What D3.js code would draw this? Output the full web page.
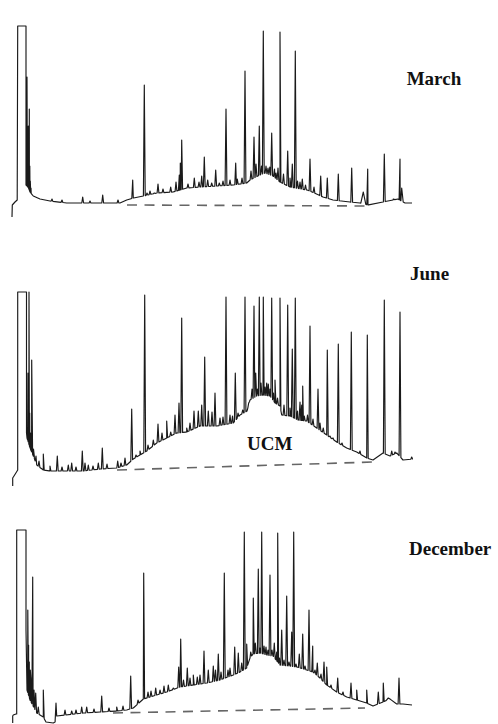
<!DOCTYPE html>
<html>
<head>
<meta charset="utf-8">
<script src="https://cdn.jsdelivr.net/npm/d3@7"></script>
<style>
  body { margin: 0; background: #fff; }
  .trace { fill: none; stroke: #1a1a1a; stroke-width: 1.15; stroke-linejoin: round; }
  .ucm-base { stroke: #666; stroke-width: 1.6; stroke-dasharray: 10,7.5; }
  .month { font-family: "Liberation Serif", "Times New Roman", serif; font-weight: bold; font-size: 19px; fill: #111; }
</style>
</head>
<body>
<svg id="chart" width="498" height="724"></svg>
<script>
// scan number vs detector response, one set per sampling month
const months = ["March", "June", "December"];

// baseline / hump knots [scan, response]
const marchBase = [[2,9],[2.3,21],[5,24],[7.2,26],[7.7,200],[16,200],[16,41],[17,40],[18.5,38],[20,34],[23.3,30],[30,27],[40,25],[56.7,23],[90,23],[110,23],[116.7,26],[123.3,28],[133.3,30],[146.7,33],[163,34],[176.7,38],[190,39],[206.7,40],[223.3,41],[236.7,43],[240,46],[250,51],[255,53],[263,50],[270,44],[280,39],[297,36],[302,34],[313,29],[323,26],[340,24],[350,23],[358,21],[373,24],[383,26],[388,27],[395,23],[402,23]];
const juneBase = [[2.7,7],[2.7,15],[4,17],[6.5,21],[7.7,23],[7.7,201],[16.5,201],[16.5,60],[17,55],[20,45],[23.3,37],[26.7,28],[33.3,23],[40,22],[56.7,22],[73.3,22],[90,24],[106.7,25],[116.7,28],[123.3,34],[130,38],[136.7,42],[146.7,50],[156.7,55],[166.7,60],[176.7,61],[190,67],[206.7,67],[223.3,70],[230,78],[237,82],[240,93],[246.7,97],[253,98],[260,97],[265,90],[270,87],[271.7,78],[280,77],[288,73],[296.7,72],[306.7,65],[316.7,58],[326.7,51],[336.7,45],[346.7,41],[356.7,35],[363,33],[373,40],[380,37],[386.7,40],[393,33],[403,34]];
const decBase = [[2.7,7],[2.7,14],[3.3,15],[6,16],[6.7,16],[6.7,200],[16,200],[16,100],[17,40],[20,30],[26.7,17],[33.3,13],[36,8],[43.3,7],[45,8],[46.7,14],[73.3,17],[90,18],[106.7,19],[116.7,20],[123.3,22],[133.3,31],[146.7,35],[156.7,38],[170,43],[183.3,45],[196.7,47],[210,50],[223.3,55],[230,58],[236.7,62],[240,72],[243,76],[250,77],[256.7,75],[263,74],[270,65],[280,64],[286.7,63],[296.7,60],[303,58],[310,52],[316.7,45],[326.7,38],[336.7,33],[346.7,30],[356.7,27],[363,24],[373,28],[380,31],[386.7,26],[393,26],[402,25]];

// resolved peaks [scan, apex response, (half width)]
const marchPeaks = [[17,149],[17.8,80],[18.3,100],[18.8,70],[19.3,117],[19.8,60],[20.3,45],[21,38],
  [42,27],[52,26],[72.7,29],[80,25],[92.7,31],[108,26],[122.7,46],[134.3,141],[137,33],[140,35],[144.3,33],[148,42],[153,37],[160.7,39],[166,44],[169.3,51],[170.3,63],[171.7,86],[178,42],[184.3,48],[189,44],[191.7,50],[194.3,69],[197.7,46],[201.7,43],[205.7,56],[209.3,43],[213,45],[216,117],[220,46],[225.7,63],[227.3,47],[232,48],[235,155],
  [241,55],[244,89],[246,62],[249.3,100],[251.5,60],[253.3,195],[256,60],[258,58],[259.8,59],[261.7,93],[264.5,57],[266,53],[268,58],[270,194],[273.5,52],[277.7,75],[280,48],[282.3,62],[285.3,175],[287.5,45],[290,44],[292.3,47],[295.5,41],[300,67],[304,39],[310.7,50],[317.3,48],[328.3,52],[341.7,58],[353.3,34,2.5],[357.7,57],[374.3,72],[383.3,27,1.5],[390,67],[391.7,38,1.5]];
const junePeaks = [[18,120],[18.5,90],[19,201],[19.7,80],[20.5,60],[21.7,133],[22.5,50],[23.5,44],
  [24.3,37],[26,37],[29,32],[33.3,39],[40,27],[47.3,37],[52,26],[58.3,28],[61.7,30],[66,26],[72.3,42],[75,30],[78.3,28],[83,27],[88.3,30],[92.3,45],[97,29],[107.7,32],[111,30],[115,35],[121.7,84],[126,38],[130,42],[134.7,198],[138,48],[143.3,53],[148,69],[152,60],[156.7,72],[160.7,61],[165,78],[169,90],[171.7,175],[176.7,65],[180,70],[184,82],[188.3,82],[191.7,88],[194.7,136],[198.3,82],[202,81],[205,100],[210,75],[213,76],[216,196],[220,78],[222.5,77],[225.3,120],[228,80],[232.7,83],[235,196],[238.7,90],
  [242,104],[244,187],[245.7,120],[247.5,104],[249.3,196],[251,110],[253.3,196],[255,106],[256.7,110],[258.3,109],[260,104],[261.7,195],[263.5,100],[265,113],[267.5,95],[270,195],[274,88],[277.7,188],[280,85],[282.3,144],[285.3,195],[287.5,82],[290,91],[291.7,88],[292.7,107],[294.3,77],[297.5,78],[300,167],[303,74],[308,104],[310,70],[313.3,65],[317.3,143],[320,57],[323,55],[328.3,149],[332,50],[341.3,161],[350,42],[357.3,158],[374.3,193],[381.7,42],[385,41],[390,181],[401.7,36]];
const decPeaks = [[17.8,120],[18.6,85],[19.3,68],[20.3,60],[21,50],[22.7,153],[24,40],[25.7,37],[28.3,23],[33.3,40],[46,27],
  [55,20],[61.7,19],[66,20],[71.7,23],[76.7,23],[84,21],[91.7,34],[99,22],[106.7,23],[113,24],[120.7,54],[128,30],[133.7,157],[138,38],[141,39],[145.7,42],[150,40],[154,44],[158.3,45],[163.3,42],[168.7,63],[170.7,91],[173.5,50],[177.3,62],[180,52],[183.3,55],[187.3,53],[190,55],[194,79],[198.3,60],[203.3,64],[205.5,60],[208.3,76],[211,58],[214.3,157],[218,60],[220,62],[224.7,83],[228.3,77],[231.7,67],[234.3,198],[236.7,86],[240.7,78],[243.3,132],[245.3,87],[248.3,161],[250,82],[251.7,198],[254,84],[256,83],[258,80],[260,155],[262,80],[264.3,87],[266.7,78],[267.7,197],[269.5,72],[271.7,100],[274,70],[276.7,134],[279,68],[281.7,98],[283.7,198],[286,66],[289.3,76],[292.7,96],[295,64],[299,120],[302.7,84],[305,60],[307.3,67],[311,56],[314,68],[316.7,63],[321,45],[327.7,52],[333,38],[341,47],[346.7,40],[356.7,40],[368.3,38],[373.3,47],[378.3,32,2.5],[389,52]];

// dashed UCM baselines [scan, response]
const marchUcm = [[117,21],[355,20]];
const juneUcm = [[107,23],[363,31]];
const decUcm = [[103,17],[355,22]];

const svg = d3.select("#chart");
const x = d3.scaleLinear().domain([0, 400]).range([10, 410]);
const y = d3.scaleLinear().domain([0, 200]).range([226, 26]);

const panels = [
  {name: months[0], base: marchBase, peaks: marchPeaks, ucm: marchUcm, dy: 0, lab: [396.7, 141]},
  {name: months[1], base: juneBase, peaks: junePeaks, ucm: juneUcm, dy: 267, lab: [400, 212.6]},
  {name: months[2], base: decBase, peaks: decPeaks, ucm: decUcm, dy: 504, lab: [399, 175]}
];

function buildTrace(base, peaks) {
  // strictly increasing knots for locating the foot of each peak
  let knots = base.filter((d, i) => i == base.length - 1 || base[i + 1][0] != d[0]);
  let foot = d3.scaleLinear()
      .domain(knots.map(d => d[0]))
      .range(knots.map(d => d[1]))
      .clamp(true);
  let pts = base.map(d => ({x: d[0], y: d[1]}));
  peaks.forEach(p => {
    let w = p[2] || 0.9;
    pts.push({x: p[0] - w, y: foot(p[0] - w)});
    pts.push({x: p[0], y: p[1]});
    pts.push({x: p[0] + w, y: foot(p[0] + w)});
  });
  pts.sort((a, b) => a.x - b.x);
  return pts;
}

const line = d3.line()
    .x(d => x(d.x))
    .y(d => y(d.y));

panels.forEach(p => {
  let g = svg.append("g")
      .attr("transform", "translate(0," + p.dy + ")");

  g.append("line")
      .attr("class", "ucm-base")
      .attr("x1", x(p.ucm[0][0]))
      .attr("y1", y(p.ucm[0][1]))
      .attr("x2", x(p.ucm[1][0]))
      .attr("y2", y(p.ucm[1][1]));

  g.append("path")
      .attr("class", "trace")
      .attr("d", line(buildTrace(p.base, p.peaks)));

  g.append("text")
      .attr("class", "month")
      .attr("x", x(p.lab[0]))
      .attr("y", y(p.lab[1]))
      .text(p.name);
});

// unresolved complex mixture label on the June hump
svg.append("text")
    .attr("class", "month")
    .attr("x", x(237))
    .attr("y", y(43) + 267)
    .text("UCM");
</script>
</body>
</html>
